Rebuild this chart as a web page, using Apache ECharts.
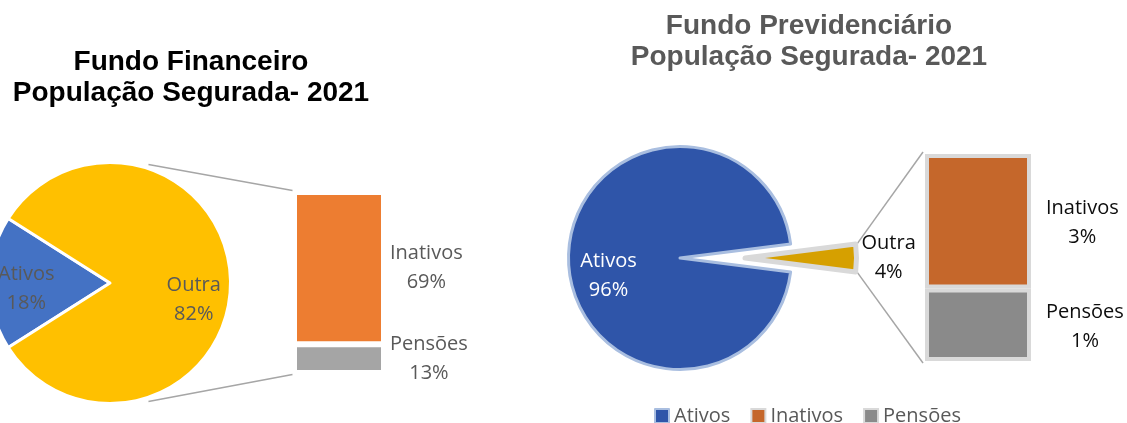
<!DOCTYPE html>
<html>
<head>
<meta charset="utf-8">
<title>População Segurada 2021</title>
<script src="https://cdn.jsdelivr.net/npm/echarts@6/dist/echarts.min.js"></script>
<style>
  html, body { margin: 0; padding: 0; background: #fff; }
  #chart { width: 1127px; height: 423px; }
</style>
</head>
<body>
<div id="chart"></div>
<script>
// percentuais
var pieNames = ["Ativos", "Outra"];
var barNames = ["Inativos", "Pensões"];
var finPie = [18, 82];
var finBar = [69, 13];
var prevPie = [96, 4];
var prevBar = [2.6, 1.4];
var titles = [
  "Fundo Financeiro\nPopulação Segurada- 2021",
  "Fundo Previdenciário\nPopulação Segurada- 2021"
];

var FONT = "'Open Sans', 'Noto Sans', sans-serif";
var TITLE_FONT = "'Liberation Sans', Arial, sans-serif";

// posicoes (px)
var fin = { cx: 110, cy: 283, r: 120.5, border: 1.5,
  grid: { left: 294, top: 192, width: 90, height: 181 } };
var prev = { cx: 680, cy: 258, r: 111.5, offset: 65, border: 2,
  grid: { left: 925, top: 154, width: 106, height: 207 } };

function sum(arr) {
  return arr.reduce(function (a, b) { return a + b; }, 0);
}

// "Outra" fica centrada a direita (0 graus)
function startAngle(values) {
  return 180 + values[0] / sum(values) * 180;
}

function centered(color) {
  return {
    m: { align: "center", color: color, fontFamily: FONT, fontSize: 20, lineHeight: 29 }
  };
}

function twoLines(name, value) {
  return "{m|" + name + "}\n{m|" + Math.round(value) + "%}";
}

// linhas de ligacao pizza -> barra
function connectors(p, halfDeg, rExtra) {
  var a = halfDeg * Math.PI / 180;
  var rr = p.r + rExtra;
  var x1 = p.cx + (p.offset || 0) + rr * Math.cos(a);
  var dy = rr * Math.sin(a);
  var x2 = p.grid.left - p.border;
  var yTop = p.grid.top - p.border;
  var yBot = p.grid.top + p.grid.height + p.border;
  var style = { stroke: "#A6A6A6", lineWidth: 1.5 };
  return [
    { type: "line", silent: true, shape: { x1: x1, y1: p.cy - dy, x2: x2, y2: yTop }, style: style },
    { type: "line", silent: true, shape: { x1: x1, y1: p.cy + dy, x2: x2, y2: yBot }, style: style }
  ];
}

var finColors = ["#4472C4", "#FFC000"];
var finBarColors = ["#ED7D31", "#A5A5A5"];
var prevColors = ["#2F55A9", "#D6A000"];
var prevBarColors = ["#C5672B", "#8A8A8A"];

var chart = echarts.init(document.getElementById("chart"));

var titleStyle = { fontFamily: TITLE_FONT, fontSize: 28, fontWeight: "bold", lineHeight: 31 };

var option = {
  animation: false,
  title: [
    {
      text: titles[0], left: 186, top: 42, textAlign: "center",
      textStyle: Object.assign({ color: "#000" }, titleStyle)
    },
    {
      text: titles[1], left: 804, top: 6, textAlign: "center",
      textStyle: Object.assign({ color: "#595959" }, titleStyle)
    }
  ],
  legend: {
    left: 649,
    top: 401,
    icon: "rect",
    itemWidth: 14,
    itemHeight: 14,
    itemGap: 20,
    selectedMode: false,
    textStyle: { fontFamily: FONT, fontSize: 20, color: "#595959" },
    data: [
      { name: pieNames[0], itemStyle: { color: prevColors[0], borderColor: "#A9BEE0", borderWidth: 2 } },
      { name: barNames[0], itemStyle: { color: prevBarColors[0], borderColor: "#D9D9D9", borderWidth: 2 } },
      { name: barNames[1], itemStyle: { color: prevBarColors[1], borderColor: "#D9D9D9", borderWidth: 2 } }
    ]
  },
  grid: [
    { left: fin.grid.left, top: fin.grid.top, width: fin.grid.width, height: fin.grid.height },
    { left: prev.grid.left, top: prev.grid.top, width: prev.grid.width, height: prev.grid.height }
  ],
  xAxis: [
    { gridIndex: 0, type: "category", data: [""], show: false },
    { gridIndex: 1, type: "category", data: [""], show: false }
  ],
  yAxis: [
    { gridIndex: 0, type: "value", min: 0, max: sum(finBar), show: false },
    { gridIndex: 1, type: "value", min: 0, max: sum(prevBar), show: false }
  ],
  graphic: connectors(fin, 72, 4).concat(connectors(prev, prevPie[1] / sum(prevPie) * 180, 1.5)),
  series: [
    // Fundo Financeiro - pizza
    {
      type: "pie",
      center: [fin.cx, fin.cy],
      radius: fin.r,
      startAngle: startAngle(finPie),
      silent: true,
      label: { show: false },
      labelLine: { show: false },
      itemStyle: { borderColor: "#fff", borderWidth: 3 },
      data: pieNames.map(function (n, i) {
        return { name: n, value: finPie[i], itemStyle: { color: finColors[i] } };
      })
    },
    // rotulos internos
    {
      type: "pie",
      center: [fin.cx, fin.cy],
      radius: [fin.r * 0.34, fin.r],
      startAngle: startAngle(finPie),
      silent: true,
      itemStyle: { color: "rgba(0,0,0,0)" },
      labelLine: { show: false },
      label: {
        show: true, position: "inside", formatter: "{b}\n{c}%",
        color: "#595959", fontFamily: FONT, fontSize: 20, lineHeight: 29
      },
      data: pieNames.map(function (n, i) {
        return { name: n, value: finPie[i], label: { offset: [0, i === 0 ? 6 : 17] } };
      })
    },
    // Fundo Financeiro - barra
    {
      type: "bar", name: barNames[1], xAxisIndex: 0, yAxisIndex: 0, stack: "fin",
      barWidth: "100%", silent: true,
      data: [finBar[1]],
      itemStyle: { color: finBarColors[1], borderColor: "#fff", borderWidth: 3 },
      label: {
        show: true, position: "right", distance: 6, rich: centered("#595959"),
        formatter: function (p) { return twoLines(p.seriesName, p.value); }
      }
    },
    {
      type: "bar", name: barNames[0], xAxisIndex: 0, yAxisIndex: 0, stack: "fin",
      barWidth: "100%", silent: true,
      data: [finBar[0]],
      itemStyle: { color: finBarColors[0], borderColor: "#fff", borderWidth: 3 },
      label: {
        show: true, position: "right", distance: 6, rich: centered("#595959"),
        formatter: function (p) { return twoLines(p.seriesName, p.value); }
      }
    },
    // Fundo Previdenciario - pizza
    {
      type: "pie",
      center: [prev.cx, prev.cy],
      radius: prev.r,
      startAngle: startAngle(prevPie),
      selectedMode: "single",
      selectedOffset: prev.offset,
      silent: true,
      labelLine: { show: false, length: 0, length2: 0 },
      data: [
        {
          name: pieNames[0], value: prevPie[0],
          itemStyle: { color: prevColors[0], borderColor: "#A9BEE0", borderWidth: 3 },
          label: { show: false }
        },
        {
          name: pieNames[1], value: prevPie[1], selected: true,
          itemStyle: { color: prevColors[1], borderColor: "#D9D9D9", borderWidth: 5 },
          select: { itemStyle: { color: prevColors[1], borderColor: "#D9D9D9", borderWidth: 5 } },
          label: {
            show: true, position: "outside", distanceToLabelLine: 5, rich: centered("#0d0d0d"),
            offset: [0, 3],
            formatter: function (p) { return twoLines(p.name, p.value); }
          }
        }
      ]
    },
    // rotulo interno de Ativos
    {
      type: "pie",
      center: [prev.cx, prev.cy],
      radius: [prev.r * 0.3, prev.r],
      startAngle: startAngle(prevPie),
      silent: true,
      itemStyle: { color: "rgba(0,0,0,0)" },
      labelLine: { show: false },
      data: [
        {
          name: pieNames[0], value: prevPie[0],
          label: {
            show: true, position: "inside", formatter: "{b}\n{c}%", offset: [4, 18],
            color: "#fff", fontFamily: FONT, fontSize: 20, lineHeight: 29
          }
        },
        { name: pieNames[1], value: prevPie[1], label: { show: false } }
      ]
    },
    // Fundo Previdenciario - barra
    {
      type: "bar", name: barNames[1], xAxisIndex: 1, yAxisIndex: 1, stack: "prev",
      barWidth: "100%", silent: true,
      data: [prevBar[1]],
      itemStyle: { color: prevBarColors[1], borderColor: "#D9D9D9", borderWidth: 4 },
      label: {
        show: true, position: "right", distance: 15, rich: centered("#0d0d0d"),
        offset: [0, 2],
        formatter: function (p) { return twoLines(p.seriesName, p.value); }
      }
    },
    {
      type: "bar", name: barNames[0], xAxisIndex: 1, yAxisIndex: 1, stack: "prev",
      barWidth: "100%", silent: true,
      data: [prevBar[0]],
      itemStyle: { color: prevBarColors[0], borderColor: "#D9D9D9", borderWidth: 4 },
      label: {
        show: true, position: "right", distance: 15, rich: centered("#0d0d0d"),
        offset: [0, 2],
        formatter: function (p) { return twoLines(p.seriesName, p.value); }
      }
    }
  ]
};

chart.setOption(option);
</script>
</body>
</html>
